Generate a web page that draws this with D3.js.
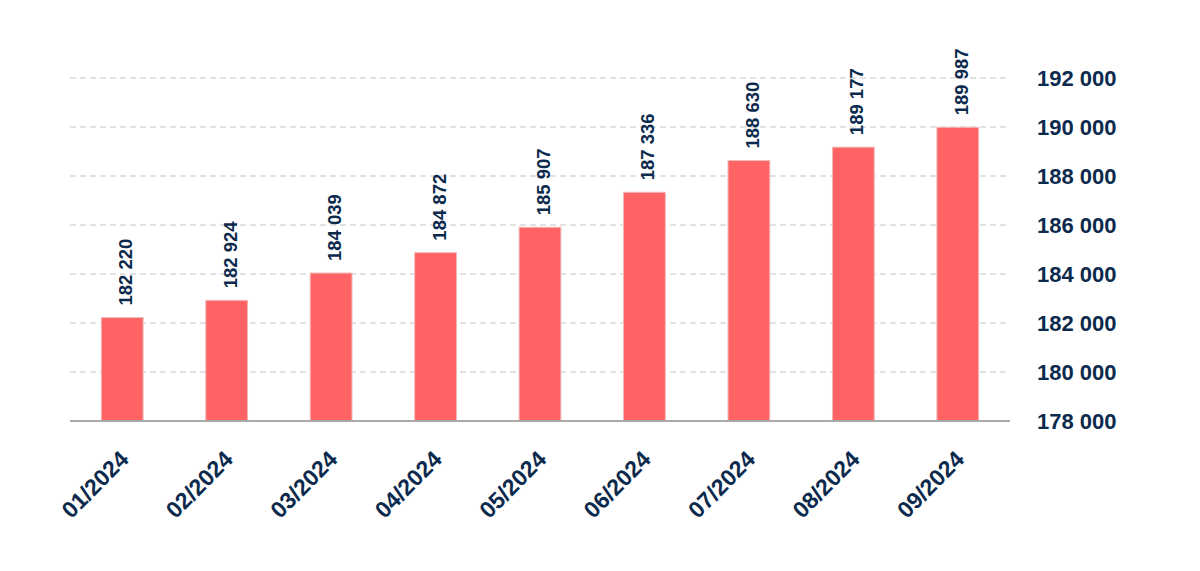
<!DOCTYPE html>
<html><head><meta charset="utf-8">
<script src="https://cdn.jsdelivr.net/npm/d3@7"></script>
<style>body{margin:0;background:#fff}svg{display:block}</style>
</head><body>
<svg id="c" width="1200" height="571"></svg>
<script>
const categories = ["01/2024","02/2024","03/2024","04/2024","05/2024","06/2024","07/2024","08/2024","09/2024"];
const values = [182220,182924,184039,184872,185907,187336,188630,189177,189987];
const yTicks = [178000,180000,182000,184000,186000,188000,190000,192000];

const svg = d3.select("#c");
const mLeft = 70, mRight = 1010, mTop = 78, mBottom = 421;
const x = d3.scaleBand().domain(categories).range([mLeft, mRight]).paddingInner(0.6).paddingOuter(0.3);
const y = d3.scaleLinear().domain([178000, 192000]).range([mBottom, mTop]);
const fmt = v => d3.format(",")(v).replace(/,/g, " ");
const navy = "#0c2a4d";
const font = "Liberation Sans, Arial, sans-serif";

// gridlines
svg.append("g").selectAll("line").data(yTicks.slice(1)).join("line")
  .attr("x1", mLeft).attr("x2", mRight)
  .attr("y1", d => y(d)).attr("y2", d => y(d))
  .attr("stroke", "#d9d9d9").attr("stroke-width", 1.5).attr("stroke-dasharray", "6,4");

// y axis on the right
const yAxis = d3.axisRight(y).tickValues(yTicks).tickFormat(fmt).tickSize(0).tickPadding(0);
const ya = svg.append("g").attr("transform", `translate(1037,0)`).call(yAxis);
ya.select(".domain").remove();
ya.selectAll("text").attr("fill", navy).style("font-family", font).style("font-size", "22px").style("font-weight", "bold").attr("dy", "0.36em");

// bars
svg.append("g").selectAll("rect").data(values).join("rect")
  .attr("x", (d, i) => x(categories[i]))
  .attr("width", x.bandwidth())
  .attr("y", d => y(d))
  .attr("height", d => mBottom - y(d))
  .attr("fill", "#ff6363").attr("stroke", "#f0b8b8").attr("stroke-width", 1);

// baseline
svg.append("line").attr("x1", mLeft).attr("x2", mRight).attr("y1", mBottom).attr("y2", mBottom)
  .attr("stroke", "#a8a8a8").attr("stroke-width", 2);

// value labels
svg.append("g").selectAll("text").data(values).join("text")
  .attr("transform", (d, i) => `translate(${x(categories[i]) + x.bandwidth()/2 + 10},${y(d) - 12}) rotate(-90)`)
  .attr("text-anchor", "start")
  .attr("fill", navy).style("font-family", font).style("font-size", "18.5px").style("font-weight", "bold")
  .text(d => fmt(d));

// x axis labels
const xAxis = d3.axisBottom(x).tickSize(0).tickPadding(0);
const xa = svg.append("g").attr("transform", `translate(0,${mBottom})`).call(xAxis);
xa.select(".domain").remove();
xa.selectAll("text")
  .attr("transform", "translate(2,34) rotate(-45)")
  .attr("text-anchor", "end").attr("dy", "0.35em").attr("y", 0)
  .attr("fill", navy).style("font-family", font).style("font-size", "23px").style("font-weight", "bold");
</script>
</body></html>
